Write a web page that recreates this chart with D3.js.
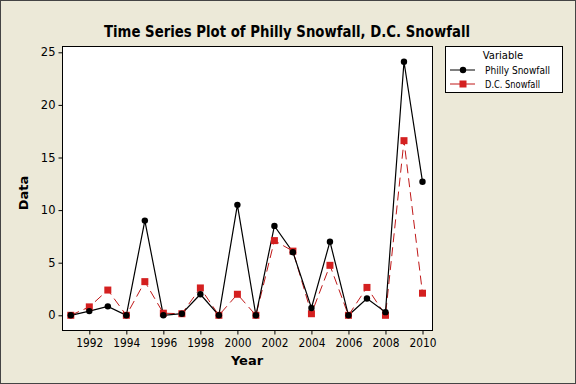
<!DOCTYPE html>
<html><head><meta charset="utf-8">
<script src="https://cdn.jsdelivr.net/npm/d3@7"></script>
<style>body{margin:0;background:#ECE9D8}</style>
</head><body>
<script>
const years = [1991,1992,1993,1994,1995,1996,1997,1998,1999,2000,2001,2002,2003,2004,2005,2006,2007,2008,2009,2010];
const philly = [0,0.4,0.85,0,9.0,0,0.15,2.0,0,10.5,0,8.5,6.0,0.7,7.0,0,1.6,0.3,24.1,12.7];
const dc = [0,0.8,2.4,0,3.2,0.2,0.15,2.6,0,2.0,0,7.1,6.1,0.15,4.75,0,2.65,0,16.6,2.1];
const xTicks = [1992,1994,1996,1998,2000,2002,2004,2006,2008,2010];
const yTicks = [0,5,10,15,20,25];
const seriesNames = ["Philly Snowfall","D.C. Snowfall"];

const W=576,H=384;
const svg=d3.select("body").append("svg").attr("width",W).attr("height",H);
svg.append("rect").attr("x",0).attr("y",0).attr("width",W).attr("height",H).attr("fill","#ECE9D8");
svg.append("rect").attr("x",0.5).attr("y",0.5).attr("width",W-1).attr("height",H-1).attr("fill","none").attr("stroke","#444");

const L=62,R=432,T=46,B=330;
const x=d3.scaleLinear().domain([1991,2010]).range([70.8,422.5]);
const y=d3.scaleLinear().domain([0,25]).range([315.3,52.3]);

svg.append("rect").attr("x",L+0.5).attr("y",T+0.5).attr("width",R-L).attr("height",B-T).attr("fill","#fff").attr("stroke","#000");

const font="Tahoma, 'DejaVu Sans', Verdana, sans-serif";
const yAxis=svg.append("g").attr("transform",`translate(${L+0.5},0)`)
  .call(d3.axisLeft(y).tickValues(yTicks).tickSize(4).tickSizeOuter(0).tickPadding(3));
const xAxis=svg.append("g").attr("transform",`translate(0,${B+0.5})`)
  .call(d3.axisBottom(x).tickValues(xTicks).tickFormat(d3.format("d")).tickSize(4).tickSizeOuter(0).tickPadding(4));
[yAxis,xAxis].forEach(a=>{a.select(".domain").remove();a.selectAll("line").attr("stroke","#000");
  a.selectAll("text").attr("font-family",font).attr("font-size",11.5).attr("fill","#000");});
xAxis.selectAll("text").attr("textLength",27).attr("lengthAdjust","spacingAndGlyphs");

svg.append("text").attr("x",287).attr("y",37).attr("text-anchor","middle").attr("font-family",font)
  .attr("font-weight","bold").attr("font-size",15.5).attr("textLength",366).attr("lengthAdjust","spacingAndGlyphs")
  .text("Time Series Plot of Philly Snowfall, D.C. Snowfall");
svg.append("text").attr("x",247).attr("y",365).attr("text-anchor","middle").attr("font-family",font)
  .attr("font-weight","bold").attr("font-size",13).text("Year");
svg.append("text").attr("transform","translate(28,193) rotate(-90)").attr("text-anchor","middle").attr("font-family",font)
  .attr("font-weight","bold").attr("font-size",13).text("Data");

const red="#D42020";
const line=d3.line().x((d,i)=>x(years[i])).y(d=>y(d));
svg.append("path").datum(dc).attr("d",line).attr("fill","none").attr("stroke","#C01818").attr("stroke-width",1).attr("stroke-dasharray","9,5");
svg.append("path").datum(philly).attr("d",line).attr("fill","none").attr("stroke","#000").attr("stroke-width",1.2);
svg.append("g").selectAll("rect").data(dc).join("rect")
  .attr("x",(d,i)=>x(years[i])-3.5).attr("y",d=>y(d)-3.5).attr("width",7).attr("height",7).attr("fill",red);
svg.append("g").selectAll("circle").data(philly).join("circle")
  .attr("cx",(d,i)=>x(years[i])).attr("cy",d=>y(d)).attr("r",3.2).attr("fill","#000");

// legend
svg.append("rect").attr("x",445.5).attr("y",46.5).attr("width",117).attr("height",46).attr("fill","#fff").attr("stroke","#000");
svg.append("text").attr("x",503).attr("y",59).attr("text-anchor","middle").attr("font-family",font).attr("font-size",10).text("Variable");
const lg=[{n:seriesNames[0],c:"#000",y:70,m:"c"},{n:seriesNames[1],c:red,y:84,m:"s"}];
lg.forEach(d=>{
  svg.append("line").attr("x1",450).attr("x2",475).attr("y1",d.y).attr("y2",d.y).attr("stroke",d.m==="c"?"#000":"#C01818");
  if(d.m==="c") svg.append("circle").attr("cx",463).attr("cy",d.y).attr("r",3.2).attr("fill","#000");
  else svg.append("rect").attr("x",459.5).attr("y",d.y-3.5).attr("width",7).attr("height",7).attr("fill",red);
  svg.append("text").attr("x",485).attr("y",d.y+4).attr("font-family",font).attr("font-size",10)
    .attr("textLength",d.m==="c"?65:55).attr("lengthAdjust","spacingAndGlyphs").text(d.n);
});
</script>
</body></html>
